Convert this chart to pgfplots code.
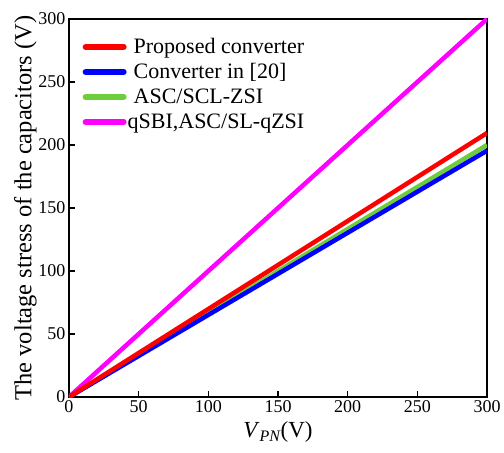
\documentclass[border=0pt]{standalone}
\usepackage{pgfplots}
\pgfplotsset{compat=1.18}
\usepackage{fontspec}
\setmainfont{Liberation Serif}
\definecolor{cred}{RGB}{255,0,0}
\definecolor{cblue}{RGB}{0,0,255}
\definecolor{cgreen}{RGB}{110,205,60}
\definecolor{cmag}{RGB}{255,0,255}
\begin{document}
\begin{tikzpicture}
\begin{axis}[
    name=ax,
    scale only axis,
    width=418pt, height=378pt,
    xmin=0, xmax=300, ymin=0, ymax=300,
    xtick={0,50,...,300}, ytick={0,50,...,300},
    tick align=inside,
    xtick pos=bottom, ytick pos=left,
    major tick length=6pt,
    axis line style={line width=1.6pt},
    every tick/.style={black, line width=1.4pt},
    tick label style={font=\fontsize{18}{18}\selectfont},
    /pgf/number format/assume math mode=true,
    xlabel={\fontsize{23}{23}\selectfont\textit{V}$_{\textit{\fontsize{16}{16}\selectfont PN}}$(V)},
    ylabel={\fontsize{24.5}{24.5}\selectfont The voltage stress of the capacitors (V)},
    xlabel style={yshift=-2pt},
    ylabel style={yshift=-5pt},
    legend style={draw=none, fill=none, at={(0.025,0.965)}, anchor=north west,
        font=\fontsize{22}{22}\selectfont, row sep=0pt,
        nodes={inner sep=1pt, text depth=5pt, text height=18pt}},
    legend cell align=left,
    legend image code/.code={\draw[#1, line cap=round] (0pt,0pt) -- (38pt,0pt);},
]
\addplot[cmag, line width=4.5pt, forget plot] coordinates {(0,0) (300,300)};
\addplot[cgreen, line width=4.5pt, forget plot] coordinates {(0,0) (300,200)};
\addplot[cblue, line width=4.5pt, forget plot] coordinates {(0,0) (300,195.5)};
\addplot[cred, line width=4.5pt, forget plot] coordinates {(0,0) (300,209.5)};
\addlegendimage{cred, line width=6pt}
\addlegendentry{\hspace{6pt}Proposed converter}
\addlegendimage{cblue, line width=6pt}
\addlegendentry{\hspace{6pt}Converter in [20]}
\addlegendimage{cgreen, line width=6pt}
\addlegendentry{\hspace{6pt}ASC/SCL-ZSI}
\addlegendimage{cmag, line width=6pt}
\addlegendentry{qSBI,ASC/SL-qZSI}
\end{axis}
\path ([xshift=-69pt,yshift=-55pt]ax.south west) rectangle ([xshift=17pt,yshift=19pt]ax.north east);
\end{tikzpicture}
\end{document}
